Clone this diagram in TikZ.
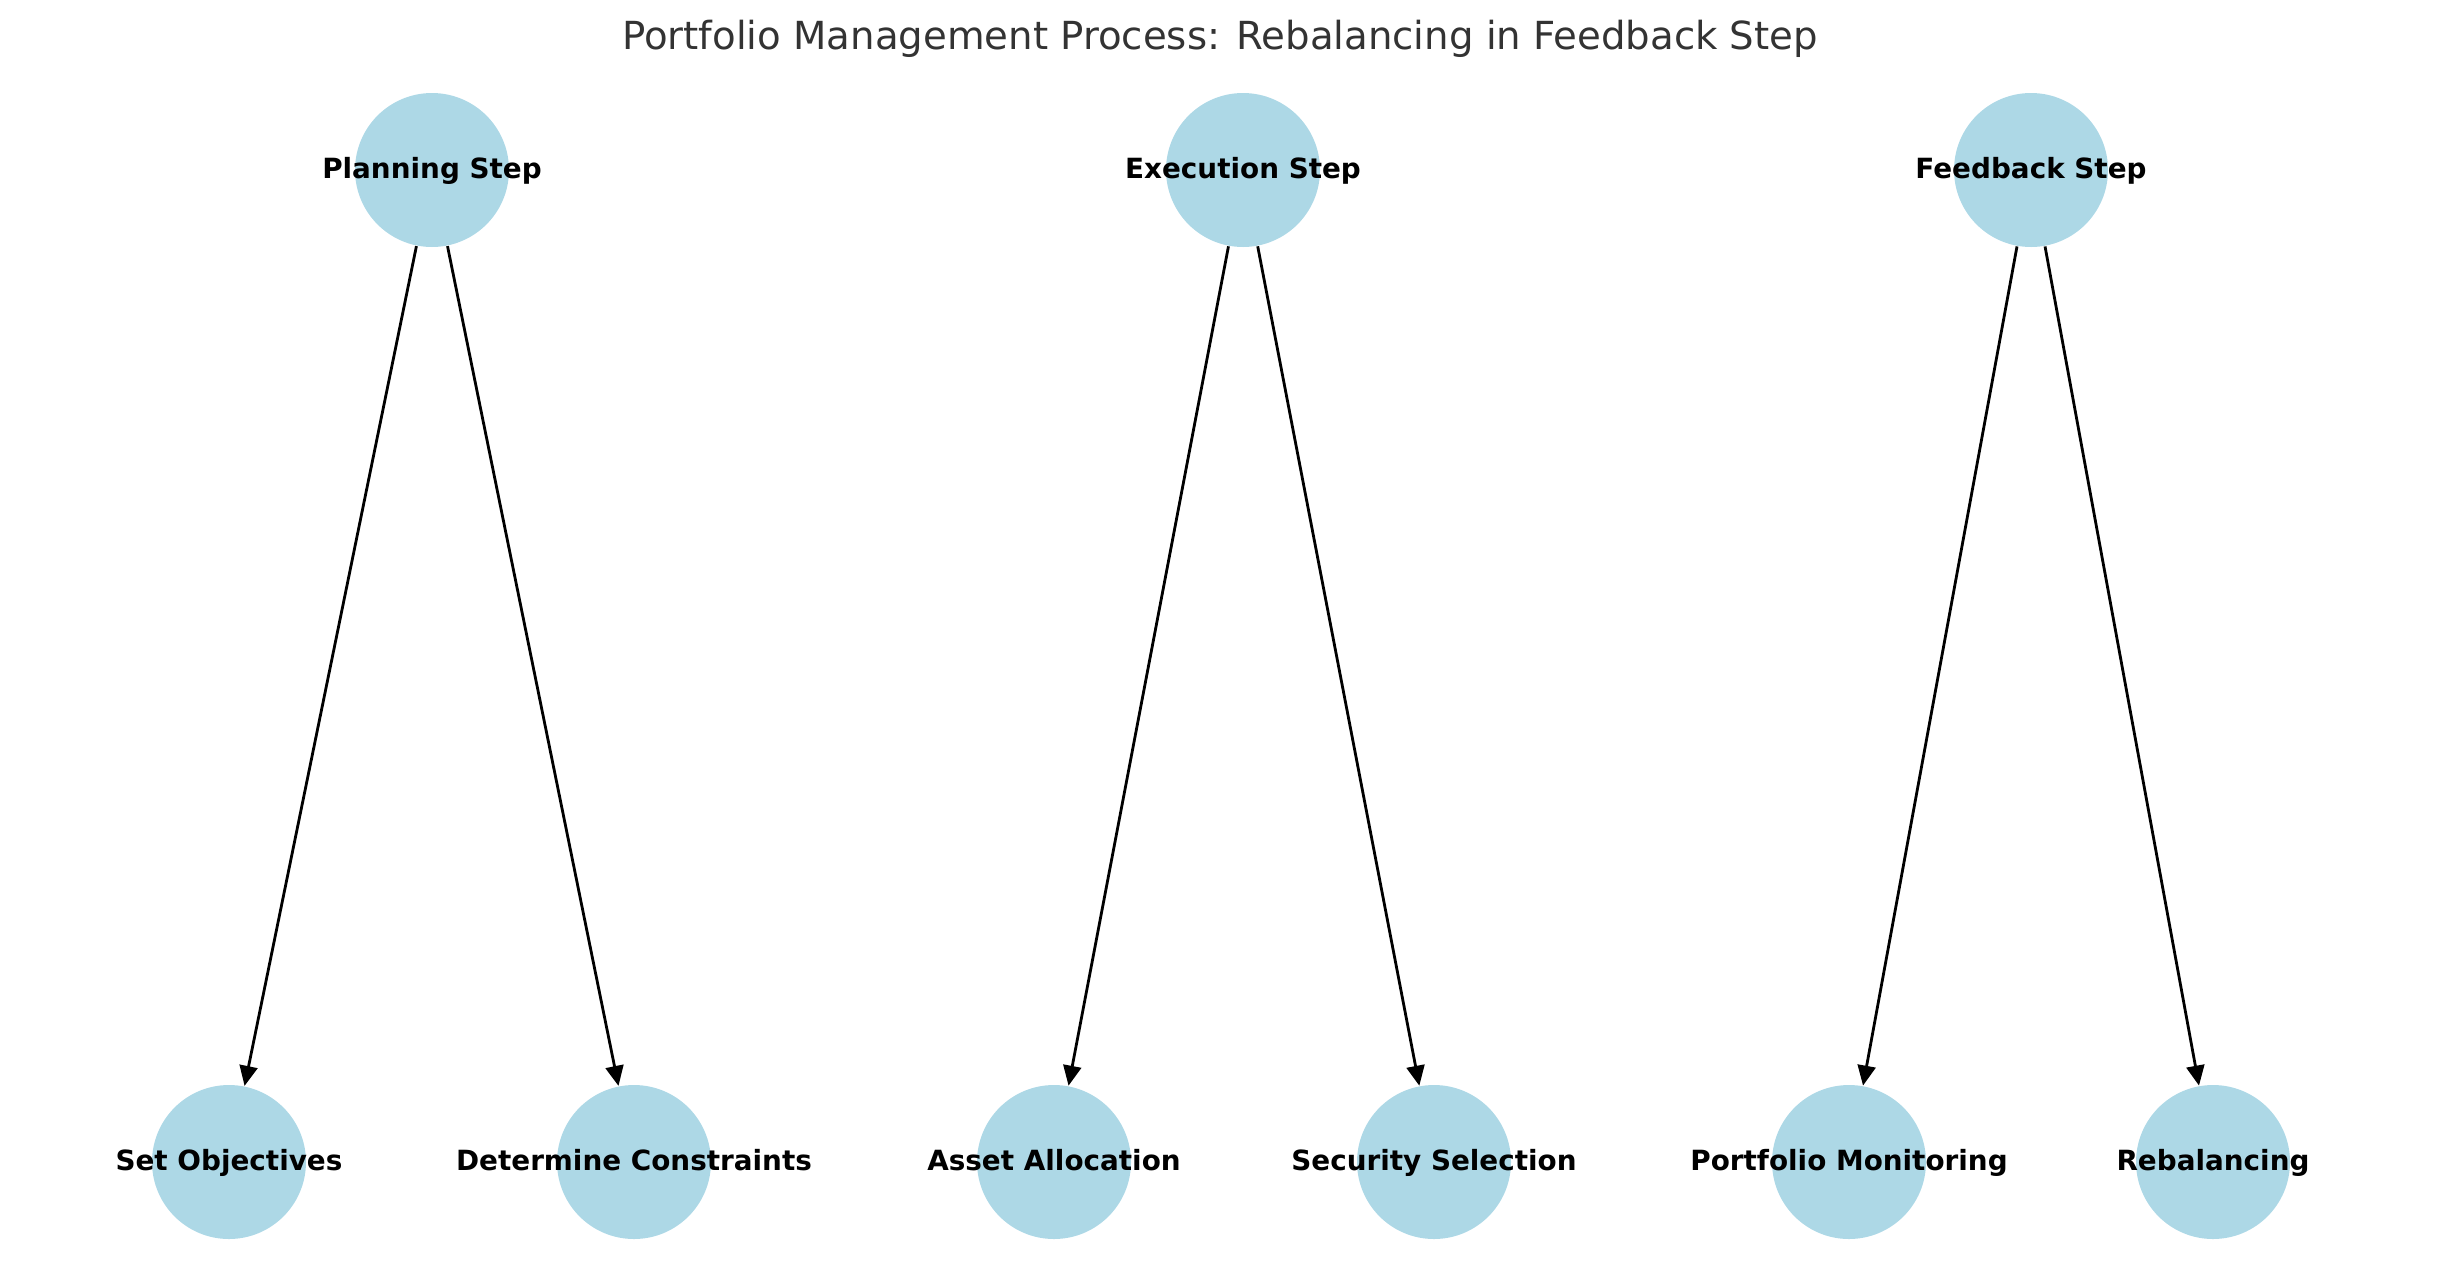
\documentclass[tikz,border=0pt]{standalone}
\usepackage{fontspec}
\setmainfont{DejaVu Sans}
\usetikzlibrary{arrows.meta,positioning}
\definecolor{stepblue}{HTML}{ADD8E6}
\definecolor{titlegray}{HTML}{333333}
\tikzset{
  basic/.style    = {circle, fill=stepblue, minimum size=15.4mm, inner sep=0pt},
  steptext/.style = {anchor=base, yshift=-0.8mm, inner sep=0pt,
                     font=\bfseries\fontsize{7.92}{9}\selectfont},
  edge/.style     = {-{Triangle[length=2mm,width=1.8mm]}, line width=0.28mm}
}

\begin{document}
\begin{tikzpicture}[x=0.1mm, y=-0.1mm]
	\useasboundingbox (0,0) rectangle (2440,1286);

	% title
	\node[anchor=base, inner sep=0pt, text=titlegray,
	  font=\fontsize{11}{13}\selectfont] (title) at (1220,49)
	  {Portfolio Management Process: Rebalancing in Feedback Step};

	% the three steps, top row
	\node[basic] (c1) at (432,170) {};
	\node[basic] (c2) at (1243,170) {};
	\node[basic] (c3) at (2031,170) {};

	% their tasks, bottom row
	\node[basic] (c11) at (229,1162) {};
	\node[basic] (c12) at (634,1162) {};
	\node[basic] (c21) at (1054,1162) {};
	\node[basic] (c22) at (1434,1162) {};
	\node[basic] (c31) at (1849,1162) {};
	\node[basic] (c32) at (2213,1162) {};

	% lines from each step to its tasks
	\foreach \i in {1,2,3}
	  \foreach \j in {1,2}
	    \draw[edge] (c\i) -- (c\i\j);

	% labels over the circles
	\node[steptext] (c1t) at (c1) {Planning Step};
	\node[steptext] (c2t) at (c2) {Execution Step};
	\node[steptext] (c3t) at (c3) {Feedback Step};
	\node[steptext] (c11t) at (c11) {Set Objectives};
	\node[steptext] (c12t) at (c12) {Determine Constraints};
	\node[steptext] (c21t) at (c21) {Asset Allocation};
	\node[steptext] (c22t) at (c22) {Security Selection};
	\node[steptext] (c31t) at (c31) {Portfolio Monitoring};
	\node[steptext] (c32t) at (c32) {Rebalancing};
\end{tikzpicture}
\end{document}
